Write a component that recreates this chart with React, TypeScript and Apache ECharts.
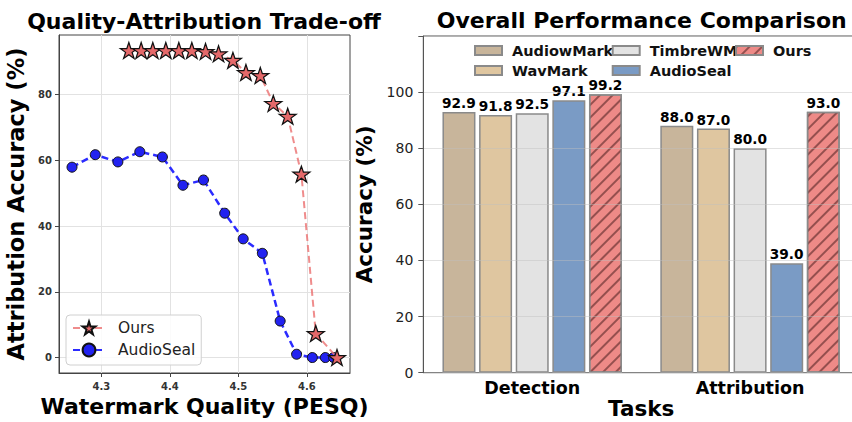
import React, { useEffect, useRef } from "react";
import * as echarts from "echarts";

// ---------- Left chart data ----------
const pesqOurs = [4.340, 4.358, 4.375, 4.394, 4.413, 4.432, 4.452, 4.471, 4.492, 4.511, 4.532, 4.551, 4.572, 4.592, 4.613, 4.644];
const accOurs = [93.4, 93.4, 93.4, 93.4, 93.4, 93.4, 93.1, 92.4, 90.4, 86.7, 85.8, 77.3, 73.4, 55.8, 7.3, 0];
const pesqAudioSeal = [4.257, 4.291, 4.324, 4.356, 4.389, 4.419, 4.449, 4.480, 4.507, 4.535, 4.561, 4.585, 4.608, 4.627, 4.639];
const accAudioSeal = [57.9, 61.7, 59.5, 62.6, 61.0, 52.4, 54.0, 43.9, 36.1, 31.7, 11.1, 1.0, 0, 0, 0];
const xTicksLeft = [4.3, 4.4, 4.5, 4.6];
const yTicksLeft = [0, 20, 40, 60, 80];

// ---------- Right chart data ----------
const tasks = ["Detection", "Attribution"];
const methods = ["AudiowMark", "WavMark", "TimbreWM", "AudioSeal", "Ours"];
const audiowmarkVals = [92.9, 88.0];
const wavmarkVals = [91.8, 87.0];
const timbrewmVals = [92.5, 80.0];
const audiosealVals = [97.1, 39.0];
const oursVals = [99.2, 93.0];

const FONT = '"DejaVu Sans", "Liberation Sans", sans-serif';
const STAR = "path://M50,0 L61.8,35.1 L98.9,35.1 L68.9,56.8 L80.2,91.9 L50,70.2 L19.8,91.9 L31.1,56.8 L1.1,35.1 L38.2,35.1 Z";

function leftOption(): any {
  return {
    animation: false,
    graphic: [
      {
        type: "text",
        x: 204,
        y: 21,
        style: {
          text: "Quality-Attribution Trade-off",
          fontFamily: FONT,
          fontWeight: "bold",
          fontSize: 22,
          fill: "#000",
          align: "center",
          verticalAlign: "middle",
        },
      },
    ],
    grid: { left: 59, right: 70, top: 35, bottom: 49, show: true, borderColor: "#444", borderWidth: 1, outerBoundsMode: "none", containLabel: false },
    legend: {
      data: ["Ours", "AudioSeal"],
      orient: "vertical",
      left: 66,
      top: 315,
      padding: [5, 6, 7, 6],
      itemWidth: 32,
      itemHeight: 16,
      itemGap: 6,
      backgroundColor: "rgba(255,255,255,0.85)",
      borderColor: "#d0d0d0",
      borderWidth: 1,
      borderRadius: 4,
      textStyle: { fontFamily: FONT, fontSize: 15.5, color: "#222", padding: [0, 0, 0, 8] },
    },
    xAxis: {
      type: "value",
      min: 4.238,
      max: 4.663,
      name: "Watermark Quality (PESQ)",
      nameLocation: "middle",
      nameGap: 19,
      nameTextStyle: { fontFamily: FONT, fontWeight: "bold", fontSize: 22, color: "#000" },
      axisLine: { show: true, onZero: false, lineStyle: { color: "#444" } },
      axisTick: { show: true, length: 4, customValues: xTicksLeft, lineStyle: { color: "#444" } },
      axisLabel: { customValues: xTicksLeft, fontFamily: FONT, fontWeight: "bold", fontSize: 10, color: "#333", margin: 8, formatter: (v: number) => v.toFixed(1) },
      splitLine: { show: true, lineStyle: { color: "#e2e2e2" } },
    },
    yAxis: {
      type: "value",
      min: -4.7,
      max: 98.1,
      name: "Attribution Accuracy (%)",
      nameLocation: "middle",
      nameGap: 28,
      nameTextStyle: { fontFamily: FONT, fontWeight: "bold", fontSize: 22.5, color: "#000" },
      axisLine: { show: true, onZero: false, lineStyle: { color: "#444" } },
      axisTick: { show: true, length: 4, customValues: yTicksLeft, lineStyle: { color: "#444" } },
      axisLabel: { customValues: yTicksLeft, fontFamily: FONT, fontWeight: "bold", fontSize: 10, color: "#333", margin: 7 },
      splitLine: { show: true, lineStyle: { color: "#e2e2e2" } },
    },
    series: [
      {
        name: "AudioSeal",
        type: "line",
        z: 2,
        data: pesqAudioSeal.map((x, i) => [x, accAudioSeal[i]]),
        symbol: "circle",
        symbolSize: 10,
        lineStyle: { color: "#2b2bff", width: 2.5, type: [7, 4] },
        itemStyle: { color: "#2222f0", borderColor: "#111", borderWidth: 1 },
      },
      {
        name: "Ours",
        type: "line",
        z: 3,
        data: pesqOurs.map((x, i) => [x, accOurs[i]]),
        symbol: STAR,
        symbolSize: [17, 16],
        lineStyle: { color: "rgba(236,120,120,0.85)", width: 2, type: [7, 4] },
        itemStyle: { color: "#e4696a", borderColor: "#111", borderWidth: 1.2 },
      },
    ],
  };
}

function rightOption(): any {
  const colors = ["#c8b59b", "#dfc6a0", "#e3e3e3", "#7a9bc5", "#ee8a87"];
  const vals = [audiowmarkVals, wavmarkVals, timbrewmVals, audiosealVals, oursVals];
  const legendBase = {
    orient: "vertical",
    top: 43,
    padding: 0,
    itemWidth: 27,
    itemHeight: 9,
    itemGap: 5,
    icon: "rect",
    textStyle: { fontFamily: FONT, fontWeight: "bold", fontSize: 14.5, color: "#111", lineHeight: 14, padding: [0, 0, 0, 5] },
  };
  return {
    animation: false,
    graphic: [
      {
        type: "text",
        x: 291.7,
        y: 20,
        style: {
          text: "Overall Performance Comparison",
          fontFamily: FONT,
          fontWeight: "bold",
          fontSize: 22,
          fill: "#000",
          align: "center",
          verticalAlign: "middle",
        },
      },
    ],
    grid: { left: 73.3, right: -7, top: 36, bottom: 49.3, show: true, borderColor: "#555", borderWidth: 1, outerBoundsMode: "none", containLabel: false },
    legend: [
      { ...legendBase, left: 124, data: [methods[0], methods[1]] },
      { ...legendBase, left: 261.7, data: [methods[2], methods[3]] },
      { ...legendBase, left: 385, data: [methods[4]] },
    ],
    xAxis: {
      type: "category",
      data: tasks,
      name: "Tasks",
      nameLocation: "middle",
      nameGap: 25,
      nameMoveOverlap: false,
      nameTextStyle: { fontFamily: FONT, fontWeight: "bold", fontSize: 21.5, lineHeight: 22, color: "#000" },
      axisLine: { lineStyle: { color: "#555" } },
      axisTick: { alignWithLabel: true, length: 4, lineStyle: { color: "#555" } },
      axisLabel: { fontFamily: FONT, fontWeight: "bold", fontSize: 17.5, color: "#000", margin: 6 },
    },
    yAxis: {
      type: "value",
      min: 0,
      max: 120,
      interval: 20,
      z: 3,
      name: "Accuracy (%)",
      nameLocation: "middle",
      nameGap: 45,
      nameTextStyle: { fontFamily: FONT, fontWeight: "bold", fontSize: 21.5, color: "#000" },
      axisLine: { show: true, lineStyle: { color: "#555" } },
      axisTick: { show: true, length: 5, lineStyle: { color: "#555" } },
      axisLabel: { fontFamily: FONT, fontSize: 14, color: "#222", margin: 10, formatter: (v: number) => (v > 100 ? "" : String(v)) },
      splitLine: { show: true, lineStyle: { color: "rgba(190,190,190,0.45)" } },
    },
    series: methods.map((m, i) => ({
      name: m,
      type: "bar",
      data: vals[i],
      barWidth: 33,
      barGap: "11%",
      itemStyle: {
        color: colors[i],
        borderColor: "#8a8a8a",
        borderWidth: 1.5,
        ...(m === "Ours"
          ? {
              decal: {
                symbol: "rect",
                symbolSize: 1,
                dashArrayX: [1, 0],
                dashArrayY: [1.6, 6.2],
                rotation: -Math.PI / 4,
                color: "rgba(90,40,40,0.6)",
              },
            }
          : {}),
      },
      label: {
        show: true,
        position: "top",
        distance: 2,
        fontFamily: FONT,
        fontWeight: "bold",
        fontSize: 13.7,
        color: "#000",
        formatter: (p: any) => Number(p.value).toFixed(1),
      },
    })),
  };
}

export default function App() {
  const leftRef = useRef<HTMLDivElement>(null);
  const rightRef = useRef<HTMLDivElement>(null);

  useEffect(() => {
    const lc = echarts.init(leftRef.current!, undefined, { renderer: "svg" });
    const rc = echarts.init(rightRef.current!, undefined, { renderer: "svg" });
    lc.setOption(leftOption());
    rc.setOption(rightOption());
    return () => {
      lc.dispose();
      rc.dispose();
    };
  }, []);

  return (
    <div style={{ position: "fixed", left: 0, top: 0, width: 852, height: 422, background: "#fff", overflow: "hidden" }}>
      <div ref={leftRef} style={{ position: "absolute", left: 0, top: 0, width: 420, height: 422 }} />
      <div ref={rightRef} style={{ position: "absolute", left: 350, top: 0, width: 502, height: 422 }} />
    </div>
  );
}
